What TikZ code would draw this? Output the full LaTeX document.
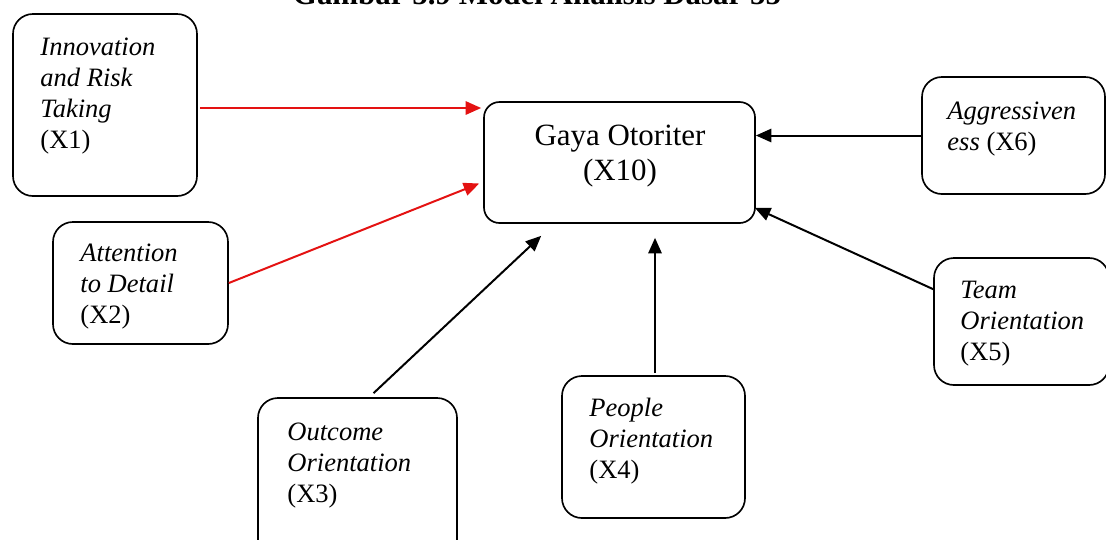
\documentclass[tikz,border=0pt]{standalone}
\usepackage{fontspec}
\setmainfont{Liberation Serif}
\usetikzlibrary{arrows.meta,calc,fit}
\definecolor{linkred}{RGB}{228,18,18}
\begin{document}
\begin{tikzpicture}[x=0.4525pt,y=-0.4525pt,
  box/.style={draw=black, line width=0.75pt, rounded corners=9pt, fill=white, inner sep=0pt},
  mainbox/.style={draw=black, line width=0.75pt, rounded corners=7pt, inner sep=0pt},
  lbl/.style={anchor=base west, align=left, inner sep=0pt, font=\fontsize{12pt}{14pt}\selectfont},
  mainlbl/.style={anchor=base, inner sep=0pt, font=\fontsize{14pt}{16pt}\selectfont},
  link/.style={line width=0.9pt, draw=black, -{Triangle[length=7pt,width=6pt]}},
  redlink/.style={link, draw=linkred, fill=linkred}]
\useasboundingbox (0,0) rectangle (1106,539);
\clip (0,0) rectangle (1106,539);

% caption, partly above the page edge
\node[anchor=base, inner sep=0pt, font=\bfseries\fontsize{14pt}{16pt}\selectfont]
  (title) at (537,4) {Gambar 5.9 Model Analisis Dasar 55};

% central variable
\node[mainbox, fit={(484,102) (755,223)}] (gaya) {};
\node[mainlbl] (gayat1) at (620,145) {Gaya Otoriter};
\node[mainlbl] (gayat2) at (620,180) {(X10)};

% culture dimensions (labels are placed by the baseline of their last line)
\node[box, fit={(13,14) (197,196)}] (x1) {};
\node[lbl] (x1t) at (40,148) {\textit{Innovation}\\\textit{and Risk}\\\textit{Taking}\\(X1)};

\node[box, fit={(53,222) (228,344)}] (x2) {};
\node[lbl] (x2t) at (80,323) {\textit{Attention}\\\textit{to Detail}\\(X2)};

\node[box, fit={(258,398) (457,570)}] (x3) {};
\node[lbl] (x3t) at (287,502) {\textit{Outcome}\\\textit{Orientation}\\(X3)};

\node[box, fit={(562,376) (745,518)}] (x4) {};
\node[lbl] (x4t) at (589,478) {\textit{People}\\\textit{Orientation}\\(X4)};

\node[box, fit={(934,258) (1109,385)}] (x5) {};
\node[lbl] (x5t) at (960,360) {\textit{Team}\\\textit{Orientation}\\(X5)};

\node[box, fit={(922,77) (1105,194)}] (x6) {};
\node[lbl] (x6t) at (947,150) {\textit{Aggressiven}\\\textit{ess} (X6)};

% influences on the leadership style
\draw[redlink] ($(x1.east)+(2,3)$) -- ($(gaya.west |- x1.east)+(-2,3)$);
\draw[redlink] (x2.east) -- ($(gaya.west)+(-4,21)$);
\draw[link] ($(x3.north)+(16,-4)$) -- ($(gaya.south west)+(58,12)$);
\draw[link] ($(x4.north)+(1.5,-2)$) -- ($(gaya.south)+(35.5,14)$);
\draw[link] ($(x5.north west)+(0,32)$) -- ($(gaya.south east)+(-1,-16)$);
\draw[link] (x6.west) -- (gaya.east |- x6.west);
\end{tikzpicture}
\end{document}
